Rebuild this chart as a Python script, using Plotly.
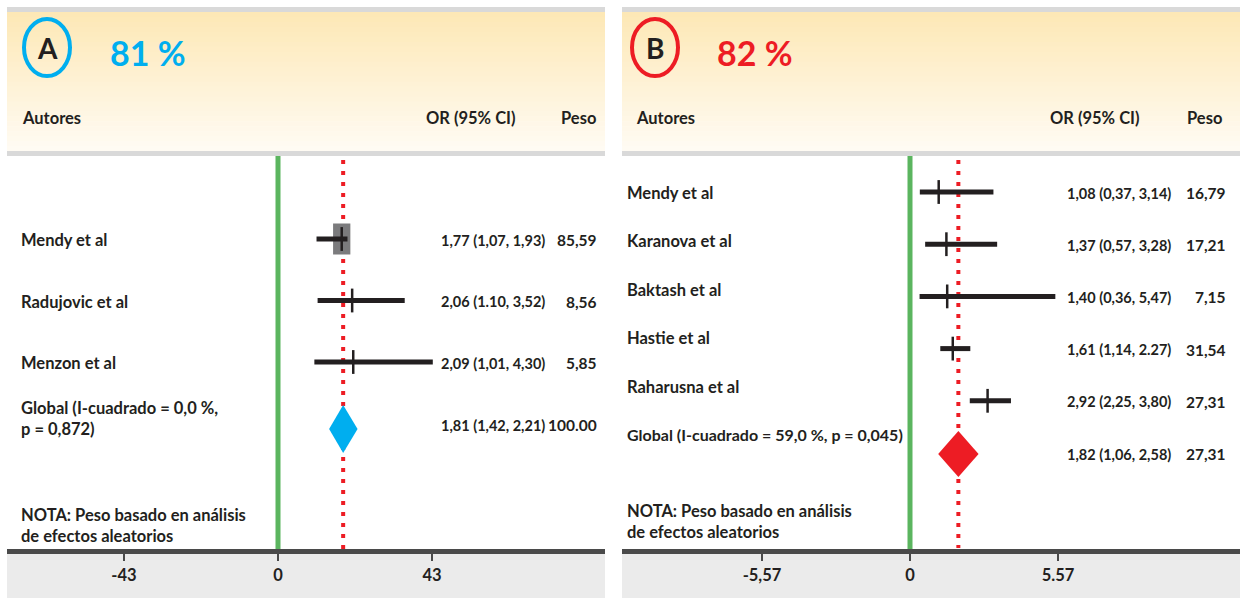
import plotly.graph_objects as go

W, H = 1240, 598
FONT = "Lato"
INK = "#231F20"
BLUE = "#00AEEF"
RED = "#ED1C24"
GREEN = "#5BB55F"
AXIS_GREY = "#4A4A4A"

# ---------------- Panel A data ----------------
a_authors = ["Mendy et al", "Radujovic et al", "Menzon et al"]
a_or = [1.77, 2.06, 2.09]
a_lo = [1.07, 1.10, 1.01]
a_hi = [1.93, 3.52, 4.30]
a_weight = [85.59, 8.56, 5.85]
a_or_text = ["1,77 (1,07, 1,93)", "2,06 (1.10, 3,52)", "2,09 (1,01, 4,30)"]
a_weight_text = ["85,59", "8,56", "5,85"]
a_global = [1.81, 1.42, 2.21]          # OR, lower, upper
a_global_text = "1,81 (1,42, 2,21)"
a_global_weight = "100.00"
a_global_label = "Global (I-cuadrado = 0,0 %,<br>p = 0,872)"
a_pct = "81 %"
a_ticks = [-43, 0, 43]
a_ticktext = ["-43", "0", "43"]

# ---------------- Panel B data ----------------
b_authors = ["Mendy et al", "Karanova et al", "Baktash et al", "Hastie et al", "Raharusna et al"]
b_or = [1.08, 1.37, 1.40, 1.61, 2.92]
b_lo = [0.37, 0.57, 0.36, 1.14, 2.25]
b_hi = [3.14, 3.28, 5.47, 2.27, 3.80]
b_or_text = ["1,08 (0,37, 3,14)", "1,37 (0,57, 3,28)", "1,40 (0,36, 5,47)",
             "1,61 (1,14, 2.27)", "2,92 (2,25, 3,80)"]
b_weight_text = ["16,79", "17,21", "7,15", "31,54", "27,31"]
b_global = [1.82, 1.06, 2.58]
b_global_text = "1,82 (1,06, 2,58)"
b_global_weight = "27,31"
b_global_label = "Global (I-cuadrado = 59,0 %, p = 0,045)"
b_pct = "82 %"
b_ticks = [-5.57, 0, 5.57]
b_ticktext = ["-5,57", "0", "5.57"]

note_text = "NOTA: Peso basado en análisis<br>de efectos aleatorios"

# ---------------- layout geometry (pixels) ----------------
A_X0, A_X1 = 7, 605
B_X0, B_X1 = 622, 1240
BAR_Y = 551
LABEL_SIZE = 16.5
VALUE_SIZE = 14.5


def px(x):
    return x / W


def axis_range(d0, d1, zero_px, ppu):
    return [(d0 - zero_px) / ppu, (d1 - zero_px) / ppu]


a_rows_y = [239 + 61.5 * i for i in range(len(a_authors))]
a_glob_y = 429
b_rows_y = [192 + 52.2 * i for i in range(len(b_authors))]
b_label_y = [193 + 48.4 * i for i in range(len(b_authors))]
b_glob_y = 454
b_glob_label_y = 434

fig = go.Figure()
shapes = []
ann = []


def text(x, y, s, size=LABEL_SIZE, color=INK, anchor="left", weight=700):
    ann.append(dict(x=px(x), xref="paper", y=y, yref="y", text=s, showarrow=False,
                    xanchor=anchor, yanchor="middle", align="left",
                    font=dict(family=FONT, size=size, color=color, weight=weight)))


# ---------------- header bands with vertical gradient ----------------
def lerp(c0, c1, t):
    a = [int(c0[i:i + 2], 16) for i in (1, 3, 5)]
    b = [int(c1[i:i + 2], 16) for i in (1, 3, 5)]
    return "rgb({},{},{})".format(*[round(a[k] + (b[k] - a[k]) * t) for k in range(3)])


for x0, x1 in [(A_X0, A_X1), (B_X0, B_X1)]:
    shapes.append(dict(type="rect", xref="paper", yref="y", x0=px(x0), x1=px(x1), y0=7, y1=12,
                       fillcolor="#D9D9D9", line_width=0, layer="below"))
    n = 28
    top, bot = 12, 151
    for k in range(n):
        ya = top + (bot - top) * k / n
        yb = top + (bot - top) * (k + 1) / n
        shapes.append(dict(type="rect", xref="paper", yref="y", x0=px(x0), x1=px(x1),
                           y0=ya, y1=yb + 0.6, fillcolor=lerp("#FDE8B6", "#FFFBF3", k / (n - 1)),
                           line_width=0, layer="below"))
    shapes.append(dict(type="rect", xref="paper", yref="y", x0=px(x0), x1=px(x1), y0=151, y1=156,
                       fillcolor="#D9D9D9", line_width=0, layer="below"))
    # grey strip under the axis bar
    shapes.append(dict(type="rect", xref="paper", yref="y", x0=px(x0), x1=px(x1), y0=BAR_Y, y1=H,
                       fillcolor="#EBEBEB", line_width=0, layer="below"))

# panel badges
for cx, letter, col, pct, pct_x in [(47, "A", BLUE, a_pct, 108), (655, "B", RED, b_pct, 715)]:
    shapes.append(dict(type="circle", xref="paper", yref="y", x0=px(cx - 23), x1=px(cx + 23),
                       y0=19, y1=76, line=dict(color=col, width=4), layer="above"))
    text(cx, 48, letter, size=28, anchor="center")
    text(pct_x, 52, pct, size=34, color=col)

# column headings
for x, s, anc in [(20, "Autores", "left"), (424, "OR (95% CI)", "left"), (598, "Peso", "right"),
                  (634, "Autores", "left"), (1048, "OR (95% CI)", "left"), (1224, "Peso", "right")]:
    text(x, 118, s, anchor=anc)

# ---------------- reference lines ----------------
shapes.append(dict(type="line", xref="x", yref="y", x0=0, x1=0, y0=156, y1=BAR_Y,
                   line=dict(color=GREEN, width=5), layer="below"))
shapes.append(dict(type="line", xref="x2", yref="y", x0=0, x1=0, y0=156, y1=BAR_Y,
                   line=dict(color=GREEN, width=5), layer="below"))

dot_style = dict(color=RED, width=4, dash="4px,7px")
fig.add_trace(go.Scatter(x=[a_global[0]] * 2, y=[160, 556], mode="lines", line=dot_style,
                         xaxis="x3", yaxis="y", hoverinfo="skip"))
fig.add_trace(go.Scatter(x=[b_global[0]] * 2, y=[160, 548], mode="lines", line=dot_style,
                         xaxis="x2", yaxis="y", hoverinfo="skip"))

# ---------------- panel A marks ----------------
box_hw, box_hh = 0.24, 15.5   # weight box half width (OR units) and half height (px)
for o, w, y in zip(a_or, a_weight, a_rows_y):
    if w > 50:
        fig.add_trace(go.Scatter(x=[o - box_hw, o + box_hw, o + box_hw, o - box_hw, o - box_hw],
                                 y=[y - box_hh, y - box_hh, y + box_hh, y + box_hh, y - box_hh],
                                 mode="lines", fill="toself", fillcolor="#7B7B7D", line_width=0,
                                 xaxis="x3", yaxis="y", hoverinfo="skip"))

ci_x, ci_y = [], []
for lo, hi, y in zip(a_lo, a_hi, a_rows_y):
    ci_x += [lo, hi, None]
    ci_y += [y, y, None]
fig.add_trace(go.Scatter(x=ci_x, y=ci_y, mode="lines", line=dict(color=INK, width=5),
                         xaxis="x3", yaxis="y", hoverinfo="skip"))
fig.add_trace(go.Scatter(x=a_or, y=a_rows_y, mode="markers",
                         marker=dict(symbol="line-ns", size=17, line=dict(color=INK, width=2.5)),
                         xaxis="x3", yaxis="y", hoverinfo="skip"))
g, glo, ghi = a_global
fig.add_trace(go.Scatter(x=[glo, g, ghi, g, glo], y=[a_glob_y, a_glob_y - 24, a_glob_y, a_glob_y + 24, a_glob_y],
                         mode="lines", fill="toself", fillcolor=BLUE, line_width=0,
                         xaxis="x3", yaxis="y", hoverinfo="skip"))

# ---------------- panel B marks ----------------
ci_x, ci_y = [], []
for lo, hi, y in zip(b_lo, b_hi, b_rows_y):
    ci_x += [lo, hi, None]
    ci_y += [y, y, None]
fig.add_trace(go.Scatter(x=ci_x, y=ci_y, mode="lines", line=dict(color=INK, width=5),
                         xaxis="x2", yaxis="y", hoverinfo="skip"))
fig.add_trace(go.Scatter(x=b_or, y=b_rows_y, mode="markers",
                         marker=dict(symbol="line-ns", size=17, line=dict(color=INK, width=2.5)),
                         xaxis="x2", yaxis="y", hoverinfo="skip"))
g, glo, ghi = b_global
fig.add_trace(go.Scatter(x=[glo, g, ghi, g, glo], y=[b_glob_y, b_glob_y - 23, b_glob_y, b_glob_y + 23, b_glob_y],
                         mode="lines", fill="toself", fillcolor=RED, line_width=0,
                         xaxis="x2", yaxis="y", hoverinfo="skip"))

# ---------------- row text ----------------
for name, ort, wt, y in zip(a_authors, a_or_text, a_weight_text, a_rows_y):
    text(19, y + 1, name)
    text(439, y + 1, ort, size=VALUE_SIZE)
    text(599, y + 1, wt, size=VALUE_SIZE + 1, anchor="right")
text(19, 418, a_global_label)
text(439, 425, a_global_text, size=VALUE_SIZE)
text(599, 425, a_global_weight, size=VALUE_SIZE + 1, anchor="right")
text(19, 525, note_text)

for name, ly, ort, wt, y in zip(b_authors, b_label_y, b_or_text, b_weight_text, b_rows_y):
    text(625, ly, name)
    text(1065, y + 1, ort, size=VALUE_SIZE)
    text(1228, y + 1, wt, size=VALUE_SIZE + 1, anchor="right")
text(625, b_glob_label_y, b_global_label, size=16)
text(1065, b_glob_y, b_global_text, size=VALUE_SIZE)
text(1228, b_glob_y, b_global_weight, size=VALUE_SIZE + 1, anchor="right")
text(625, 521, note_text)

# ---------------- axes ----------------
bar_pos = 1 - BAR_Y / H
axis_common = dict(anchor="free", position=bar_pos, showline=True, linewidth=5, linecolor=AXIS_GREY,
                   ticks="outside", ticklen=7, tickwidth=2, tickcolor=AXIS_GREY,
                   showgrid=False, zeroline=False, fixedrange=True,
                   tickfont=dict(family=FONT, size=16.5, color=INK, weight=700))

fig.update_layout(
    width=W, height=H, margin=dict(l=0, r=0, t=0, b=0),
    paper_bgcolor="white", plot_bgcolor="white", showlegend=False, hovermode=False,
    xaxis=dict(domain=[px(A_X0), px(A_X1)], range=axis_range(A_X0, A_X1, 278, 154 / 43),
               tickvals=a_ticks, ticktext=a_ticktext, **axis_common),
    xaxis2=dict(domain=[px(B_X0), px(B_X1)], range=axis_range(B_X0, B_X1, 910, 148 / 5.57),
                tickvals=b_ticks, ticktext=b_ticktext, **axis_common),
    # odds-ratio scale used for the study marks of panel A, sharing the zero of the lower axis
    xaxis3=dict(domain=[px(A_X0), px(A_X1)], overlaying="x", range=axis_range(A_X0, A_X1, 278, 36),
                visible=False, fixedrange=True),
    yaxis=dict(domain=[0, 1], range=[H, 0], visible=False, fixedrange=True),
    shapes=shapes, annotations=ann,
)

fig.write_html("out.html")
